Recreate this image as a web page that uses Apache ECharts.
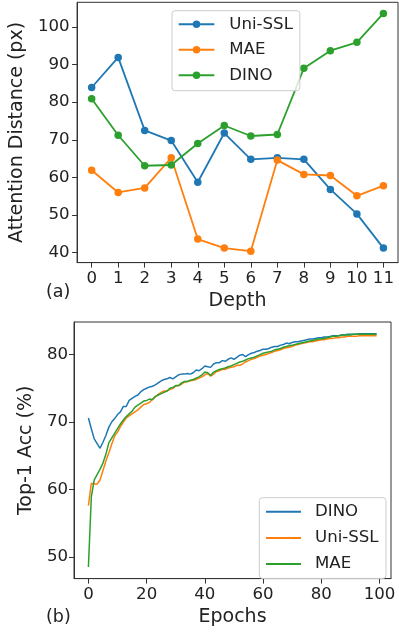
<!DOCTYPE html>
<html>
<head>
<meta charset="utf-8">
<script src="https://cdn.jsdelivr.net/npm/echarts@6/dist/echarts.min.js"></script>
<style>
  html, body { margin: 0; padding: 0; background: #fff; }
  #top, #bottom { position: absolute; left: 0; width: 399px; height: 316px; }
  #top { top: 0; }
  #bottom { top: 316px; }
</style>
</head>
<body>
<div id="top"></div>
<div id="bottom"></div>
<script>
// (a) attention distance per depth
const depth = [0, 1, 2, 3, 4, 5, 6, 7, 8, 9, 10, 11];
const distUniSSL = [83.9, 91.9, 72.5, 69.8, 58.7, 71.8, 64.8, 65.2, 64.8, 56.8, 50.3, 41.2];
const distMAE = [61.9, 56.0, 57.2, 65.2, 43.6, 41.2, 40.4, 64.6, 60.8, 60.5, 55.1, 57.8];
const distDINO = [80.9, 71.2, 63.1, 63.3, 69.0, 73.8, 71.0, 71.4, 89.0, 93.7, 95.9, 103.6];
const distTicks = [40, 50, 60, 70, 80, 90, 100];

// (b) top-1 accuracy per epoch (0..99)
const accDINO = [
  70.6, 69.0, 67.5, 66.8, 66.1, 67.0, 68.0, 69.2, 70.0, 70.5,
  71.1, 71.5, 72.3, 72.3, 73.2, 73.5, 73.8, 74.0, 74.5, 74.8,
  75.0, 75.2, 75.3, 75.5, 75.8, 76.1, 76.3, 76.4, 76.6, 76.4,
  76.7, 77.0, 77.1, 77.1, 77.2, 77.1, 77.3, 77.7, 77.6, 77.9,
  78.3, 78.2, 78.1, 78.6, 78.8, 78.8, 79.1, 79.0, 79.3, 79.5,
  79.3, 79.6, 79.9, 80.0, 79.7, 80.0, 80.2, 80.3, 80.5, 80.6,
  80.8, 80.8, 80.9, 81.1, 81.2, 81.2, 81.4, 81.5, 81.7, 81.6,
  81.8, 81.9, 81.9, 82.0, 82.1, 82.2, 82.3, 82.3, 82.4, 82.5,
  82.5, 82.6, 82.6, 82.7, 82.8, 82.8, 82.8, 82.9, 82.9, 83.0,
  83.0, 83.0, 83.0, 83.1, 83.1, 83.1, 83.1, 83.1, 83.1, 83.1
];
const accUniSSL = [
  57.6, 60.9, 60.8, 60.8, 61.4, 62.8, 64.2, 65.4, 66.7, 67.9,
  68.5, 69.3, 70.0, 70.6, 70.9, 71.2, 71.5, 71.8, 72.2, 72.6,
  72.7, 72.9, 73.4, 73.7, 74.1, 74.4, 74.6, 74.6, 74.8, 75.0,
  75.3, 75.4, 75.6, 75.9, 76.0, 76.1, 76.2, 76.3, 76.5, 76.7,
  77.0, 77.2, 76.8, 77.1, 77.5, 77.6, 77.8, 77.8, 78.0, 78.1,
  78.2, 78.4, 78.4, 78.6, 78.9, 79.1, 79.3, 79.4, 79.6, 79.8,
  79.9, 80.0, 80.2, 80.3, 80.5, 80.6, 80.7, 80.9, 81.0, 81.1,
  81.2, 81.4, 81.5, 81.6, 81.7, 81.8, 81.9, 81.9, 82.0, 82.1,
  82.2, 82.2, 82.3, 82.4, 82.4, 82.5, 82.5, 82.6, 82.6, 82.7,
  82.7, 82.7, 82.7, 82.8, 82.8, 82.8, 82.8, 82.8, 82.8, 82.8
];
const accMAE = [
  48.5, 58.9, 61.4, 62.2, 63.0, 63.9, 65.2, 66.9, 67.6, 68.3,
  69.0, 69.7, 70.3, 70.8, 71.2, 71.6, 72.2, 72.5, 72.8, 73.1,
  73.2, 73.4, 73.3, 73.8, 74.0, 74.2, 74.4, 74.6, 75.0, 75.1,
  75.4, 75.4, 75.8, 76.0, 76.0, 76.2, 76.3, 76.5, 76.7, 77.0,
  77.4, 77.3, 76.9, 77.4, 77.6, 77.8, 77.9, 78.0, 78.2, 78.3,
  78.5, 78.7, 78.9, 79.0, 79.2, 79.4, 79.5, 79.6, 79.8, 80.0,
  80.2, 80.3, 80.4, 80.5, 80.7, 80.8, 80.9, 81.1, 81.2, 81.3,
  81.4, 81.5, 81.6, 81.7, 81.8, 81.9, 82.0, 82.1, 82.2, 82.3,
  82.3, 82.4, 82.5, 82.6, 82.7, 82.7, 82.8, 82.9, 82.9, 82.9,
  82.9, 83.0, 83.0, 83.0, 83.0, 83.0, 83.0, 83.0, 83.0, 83.0
];
const epochTicks = [0, 20, 40, 60, 80, 100];
const accTicks = [50, 60, 70, 80];

const FONT = 'DejaVu Sans';
const INK = '#222';
const SPINE = '#333';
const BLUE = '#1f77b4';
const ORANGE = '#ff7f0e';
const GREEN = '#2ca02c';

const epochs = accDINO.map((_, i) => i);
const pairs = (xs, ys) => xs.map((x, i) => [x, ys[i]]);

// matplotlib-ish boxed axis: full frame, outward ticks, no grid lines
function axis(opts) {
  return {
    type: 'value',
    min: opts.min,
    max: opts.max,
    name: opts.name,
    nameLocation: 'middle',
    nameGap: opts.nameGap,
    nameTextStyle: { fontFamily: FONT, fontSize: 19, color: INK },
    axisLine: { show: true, onZero: false, lineStyle: { color: SPINE, width: 1 } },
    axisTick: {
      show: true,
      length: 5,
      lineStyle: { color: SPINE, width: 1 },
      customValues: opts.ticks,
    },
    axisLabel: {
      fontFamily: FONT,
      fontSize: 16.6,
      color: INK,
      margin: opts.margin,
      customValues: opts.ticks,
    },
    splitLine: { show: false },
  };
}

function legend(opts) {
  const lg = {
    orient: 'vertical',
    left: opts.left,
    top: opts.top,
    padding: opts.padding,
    itemWidth: opts.itemWidth,
    itemHeight: opts.itemHeight,
    itemGap: opts.itemGap,
    backgroundColor: 'rgba(255,255,255,0.8)',
    borderColor: '#cccccc',
    borderWidth: 1,
    borderRadius: 3,
    selectedMode: false,
    z: 10,
    textStyle: {
      fontFamily: FONT,
      fontSize: 16.6,
      color: INK,
      lineHeight: 18,
      padding: [0, 0, 0, opts.textPad],
    },
    data: opts.data,
  };
  // line-only legend keys for the epoch panel
  if (opts.hideSymbol) lg.itemStyle = { opacity: 0 };
  return lg;
}

const panelLabel = (text, x, y) => ({
  type: 'text',
  left: x,
  top: y,
  style: { text, fontFamily: FONT, fontSize: 17.5, fill: INK },
});

const topChart = echarts.init(document.getElementById('top'), null, { renderer: 'canvas' });
topChart.setOption({
  animation: false,
  grid: {
    left: 76, top: 2.3, width: 322, height: 266,
    show: true, borderColor: SPINE, borderWidth: 1,
  },
  xAxis: axis({ min: -0.55, max: 11.55, ticks: depth, name: 'Depth', nameGap: 24, margin: 7.5 }),
  yAxis: axis({ min: 37.35, max: 106.55, ticks: distTicks, name: 'Attention Distance (px)', nameGap: 41, margin: 7.5 }),
  legend: legend({
    left: 172, top: 10.7,
    padding: [4.6, 7, 6.4, 5.7],
    itemWidth: 35.6, itemHeight: 9.4, itemGap: 7.5, textPad: 10,
    data: ['Uni-SSL', 'MAE', 'DINO'],
  }),
  graphic: [panelLabel('(a)', 46, 283)],
  series: [
    ['Uni-SSL', distUniSSL, BLUE],
    ['MAE', distMAE, ORANGE],
    ['DINO', distDINO, GREEN],
  ].map(([name, vals, color]) => ({
    name,
    type: 'line',
    data: pairs(depth, vals),
    symbol: 'circle',
    symbolSize: 7.5,
    lineStyle: { color, width: 1.8 },
    itemStyle: { color },
  })),
});

const bottomChart = echarts.init(document.getElementById('bottom'), null, { renderer: 'canvas' });
bottomChart.setOption({
  animation: false,
  grid: {
    left: 74, top: 6, width: 317, height: 265,
    show: true, borderColor: SPINE, borderWidth: 1,
  },
  xAxis: axis({ min: -4.95, max: 103.95, ticks: epochTicks, name: 'Epochs', nameGap: 27, margin: 7.5 }),
  yAxis: axis({ min: 46.77, max: 84.83, ticks: accTicks, name: 'Top-1 Acc (%)', nameGap: 33, margin: 6 }),
  legend: legend({
    left: 259.3, top: 181.7,
    padding: [5, 7.4, 5.3, 5.7],
    itemWidth: 35, itemHeight: 10, itemGap: 8.2, textPad: 9,
    hideSymbol: true,
    data: ['DINO', 'Uni-SSL', 'MAE'],
  }),
  graphic: [panelLabel('(b)', 46, 292)],
  series: [
    ['DINO', accDINO, BLUE],
    ['Uni-SSL', accUniSSL, ORANGE],
    ['MAE', accMAE, GREEN],
  ].map(([name, vals, color]) => ({
    name,
    type: 'line',
    data: pairs(epochs, vals),
    symbol: 'none',
    lineStyle: { color, width: 1.5 },
    itemStyle: { color },
  })),
});
</script>
</body>
</html>
